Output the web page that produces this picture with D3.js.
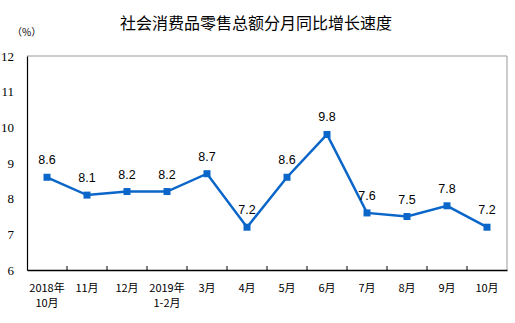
<!DOCTYPE html>
<html>
<head>
<meta charset="utf-8">
<script src="https://cdn.jsdelivr.net/npm/d3@7"></script>
<style>
  body { margin: 0; background: #fff; }
  svg { display: block; }
</style>
</head>
<body>
<svg id="chart" width="515" height="323"></svg>
<script>
// 月份与增速
const months = ["2018年\n10月", "11月", "12月", "2019年\n1-2月", "3月", "4月", "5月", "6月", "7月", "8月", "9月", "10月"];
const growth = [8.6, 8.1, 8.2, 8.2, 8.7, 7.2, 8.6, 9.8, 7.6, 7.5, 7.8, 7.2];
const yTicks = [6, 7, 8, 9, 10, 11, 12];

const svg = d3.select("#chart");
const mLeft = 27, mRight = 507, mTop = 56, mBottom = 270;
const blue = "#0a66c8";

const x = d3.scaleBand().domain(months).range([mLeft, mRight]);
const y = d3.scaleLinear().domain([6, 12]).range([mBottom, mTop]);

// 标题
svg.append("text")
    .attr("x", 256).attr("y", 29)
    .attr("text-anchor", "middle")
    .style("font-family", "'Noto Sans CJK SC', sans-serif")
    .style("font-size", "16px")
    .text("社会消费品零售总额分月同比增长速度");

svg.append("text")
    .attr("x", 12).attr("y", 36)
    .style("font-family", "'Noto Sans CJK SC', sans-serif")
    .style("font-size", "10px")
    .text("（%）");

// 边框：上、右为灰色
svg.append("path")
    .attr("d", `M${mLeft},${mTop}H${mRight}V${mBottom}`)
    .attr("fill", "none")
    .attr("stroke", "#999")
    .attr("stroke-width", 1);

// y 轴
const yAxis = svg.append("g")
    .attr("transform", `translate(${mLeft},0)`)
    .call(d3.axisLeft(y).tickValues(yTicks).tickFormat(d3.format("d")).tickSize(0).tickPadding(13));
yAxis.select(".domain").attr("stroke", "#000").attr("stroke-width", 1.2);
yAxis.selectAll("text")
    .style("font-family", "'Liberation Serif', serif")
    .style("font-size", "13px")
    .attr("fill", "#000");

// x 轴
const xAxis = svg.append("g")
    .attr("transform", `translate(0,${mBottom})`)
    .call(d3.axisBottom(x).tickSize(0).tickFormat(""));
xAxis.select(".domain").attr("stroke", "#000").attr("stroke-width", 1.5);
xAxis.selectAll(".bd")
    .data(d3.range(1, months.length))
    .enter().append("line")
    .attr("x1", i => mLeft + i * x.step())
    .attr("x2", i => mLeft + i * x.step())
    .attr("y1", 0).attr("y2", -4)
    .attr("stroke", "#000");

months.forEach(m => {
    const lines = m.split("\n");
    const t = xAxis.append("text")
        .attr("x", x(m) + x.bandwidth() / 2)
        .attr("y", 22)
        .attr("text-anchor", "middle")
        .style("font-family", "'Noto Sans CJK SC', sans-serif")
        .style("font-size", "11px")
        .attr("fill", "#000");
    lines.forEach((s, i) => {
        t.append("tspan")
            .attr("x", x(m) + x.bandwidth() / 2)
            .attr("dy", i === 0 ? 0 : 15)
            .text(s);
    });
});

// 折线
const cx = (d, i) => x(months[i]) + x.bandwidth() / 2;
svg.append("path")
    .datum(growth)
    .attr("d", d3.line().x(cx).y(d => y(d)))
    .attr("fill", "none")
    .attr("stroke", blue)
    .attr("stroke-width", 2.5);

svg.selectAll(".pt")
    .data(growth)
    .enter().append("rect")
    .attr("x", (d, i) => cx(d, i) - 3.5)
    .attr("y", d => y(d) - 3.5)
    .attr("width", 7).attr("height", 7)
    .attr("fill", blue);

svg.selectAll(".lbl")
    .data(growth)
    .enter().append("text")
    .attr("x", (d, i) => cx(d, i))
    .attr("y", d => y(d) - 13)
    .attr("text-anchor", "middle")
    .style("font-family", "'Liberation Sans', Arial, sans-serif")
    .style("font-size", "12.5px")
    .text(d => d.toFixed(1));
</script>
</body>
</html>
